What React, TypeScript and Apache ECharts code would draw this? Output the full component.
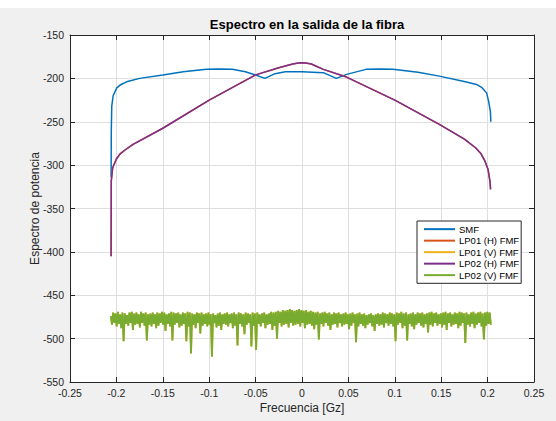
import React, { useEffect, useRef } from "react";
import * as echarts from "echarts";

const titleText = "Espectro en la salida de la fibra";
const xName = "Frecuencia [Gz]";
const yName = "Espectro de potencia";
const legendNames = ["SMF", "LP01 (H) FMF", "LP01 (V) FMF", "LP02 (H) FMF", "LP02 (V) FMF"];
const colors = ["#0072BD", "#D95319", "#EDB120", "#7E2F8E", "#77AC30"];

const smfX = [-0.2057, -0.2055, -0.205, -0.2035, -0.1996, -0.195, -0.189, -0.175, -0.15, -0.128, -0.103, -0.09, -0.075, -0.061, -0.05, -0.04, -0.029, -0.018, 0, 0.023, 0.037, 0.048, 0.069, 0.085, 0.098, 0.125, 0.148, 0.176, 0.188, 0.194, 0.199, 0.201, 0.203, 0.2035];
const smfY = [-314, -260, -232, -220, -211, -207, -204, -200, -196.2, -192.3, -189.6, -189.3, -189.6, -192.3, -196.2, -200, -194.6, -192.3, -192.3, -193.4, -200, -195.4, -189.6, -189.3, -189.6, -193, -197.4, -203.8, -207, -210.7, -217, -226, -238, -250];

const lp02hX = [-0.2057, -0.2055, -0.204, -0.2, -0.196, -0.19, -0.182, -0.15, -0.1, -0.05, -0.025, -0.01, -0.004, 0, 0.004, 0.01, 0.023, 0.048, 0.1, 0.148, 0.175, 0.187, 0.193, 0.197, 0.2005, 0.2027, 0.2032];
const lp02hY = [-405, -318, -303, -293, -287, -282, -276, -257.5, -225, -196, -187.7, -183.5, -182.3, -182, -182.3, -183.5, -189.6, -198.5, -225, -253, -270, -280, -287, -295, -305, -320, -328];

const noiseStart = -0.206;
const noiseEnd = 0.2035;
const noiseTop = [
  -474, -470, -471, -469, -472, -470, -471, -473, -470, -469, -471, -470, -472, -469, -471, -470, -472, -471, -470, -472,
  -470, -471, -469, -470, -472, -471, -469, -470, -471, -470, -472, -470, -471, -469, -470, -471, -472, -470, -471, -470,
  -472, -471, -470, -472, -471, -473, -471, -470, -472, -471, -470, -472, -471, -470, -472, -470, -471, -472, -470, -471,
  -472, -470, -471, -470, -472, -471, -470, -472, -471, -469, -470, -469, -468, -469, -467, -468, -467, -466, -467, -468,
  -467, -466, -467, -468, -467, -469, -468, -469, -470, -469, -471, -470, -469, -471, -470, -472, -470, -471, -470, -472,
  -471, -470, -472, -471, -470, -472, -471, -470, -472, -471, -473, -472, -471, -473, -472, -471, -472, -470, -471, -472,
  -470, -471, -472, -470, -471, -469, -471, -470, -472, -471, -470, -472, -470, -471, -470, -472, -471, -470, -469, -471,
  -470, -472, -471, -470, -469, -471, -470, -472, -470, -471, -469, -470, -471, -470, -472, -470, -469, -471, -470, -469,
  -471, -470, -469, -470,
];
const noiseBottom = [
  -484, -482, -486, -483, -488, -503, -483, -485, -482, -490, -484, -483, -487, -482, -485, -502, -484, -486, -483, -488,
  -485, -482, -484, -491, -483, -486, -502, -484, -482, -487, -485, -483, -503, -486, -517, -484, -488, -482, -494, -485,
  -483, -486, -484, -521, -482, -487, -485, -490, -483, -484, -486, -482, -488, -485, -508, -483, -486, -495, -484, -482,
  -509, -485, -513, -483, -486, -482, -488, -484, -483, -490, -485, -500, -482, -486, -484, -483, -487, -482, -485, -484,
  -483, -486, -482, -488, -484, -483, -485, -489, -484, -501, -483, -486, -482, -485, -490, -484, -483, -487, -482, -486,
  -484, -483, -489, -485, -482, -504, -486, -483, -485, -488, -484, -482, -486, -491, -483, -485, -484, -487, -482, -485,
  -483, -486, -503, -484, -482, -488, -485, -502, -483, -486, -489, -484, -482, -485, -487, -483, -493, -484, -486, -482,
  -485, -483, -487, -484, -490, -482, -486, -484, -483, -488, -485, -482, -505, -484, -486, -483, -488, -484, -482, -486,
  -501, -485, -483, -484,
];

const xTicks = { min: -0.25, max: 0.25, interval: 0.05 };
const yTicks = { min: -550, max: -150, interval: 50 };

const pairs = (xs: number[], ys: number[]) => xs.map((x, i) => [x, ys[i]]);
const noiseData: number[][] = [];
{
  const n = noiseTop.length * 2;
  noiseTop.forEach((t, i) => {
    noiseData.push([noiseStart + ((2 * i) * (noiseEnd - noiseStart)) / (n - 1), t]);
    noiseData.push([noiseStart + ((2 * i + 1) * (noiseEnd - noiseStart)) / (n - 1), noiseBottom[i]]);
  });
}

const FONT = "Liberation Sans, Arial, Helvetica, sans-serif";
const AX = "#262626";
const OFF = 8; // white strip above the figure

export default function App() {
  const ref = useRef<HTMLDivElement>(null);
  useEffect(() => {
    if (!ref.current) return;
    const chart = echarts.init(ref.current, undefined, { renderer: "svg" });
    const fmt = (v: number) => parseFloat(v.toFixed(2)).toString();
    const baseAxisCommon = {
      axisLine: { show: true, onZero: false, lineStyle: { color: AX, width: 1 } },
      axisTick: { show: true, inside: true, length: 5, lineStyle: { color: AX } },
    };
    const lineSeries = (name: string, data: number[][], color: string, width = 1.5) => ({
      name,
      type: "line",
      data,
      showSymbol: false,
      symbol: "none",
      lineStyle: { color, width },
      itemStyle: { color },
      emphasis: { disabled: true },
    });
    chart.setOption({
      animation: false,
      backgroundColor: "#f0f0f0",
      textStyle: { fontFamily: FONT },
      title: {
        text: titleText,
        left: 302,
        top: 13 - OFF,
        textAlign: "center",
        textStyle: { fontSize: 13, fontWeight: "bold", color: "#000", fontFamily: FONT },
      },
      grid: {
        left: 70,
        right: 22,
        top: 35 - OFF,
        bottom: 39,
        show: true,
        backgroundColor: "#ffffff",
        borderWidth: 0,
      },
      legend: {
        data: legendNames,
        orient: "vertical",
        left: 417,
        top: 221 - OFF,
        padding: [3, 2, 3, 7],
        itemGap: 1.2,
        itemWidth: 31,
        itemHeight: 2,
        icon: "rect",
        backgroundColor: "#ffffff",
        borderColor: AX,
        borderWidth: 1,
        borderRadius: 0,
        textStyle: { fontSize: 9.5, color: "#000", fontFamily: FONT, padding: [0, 0, 0, -1], lineHeight: 10.3 },
      },
      xAxis: [
        {
          type: "value",
          ...xTicks,
          position: "bottom",
          name: xName,
          nameLocation: "middle",
          nameGap: 20,
          nameMoveOverlap: false,
          nameTextStyle: { fontSize: 12, color: AX, fontFamily: FONT },
          ...baseAxisCommon,
          axisLabel: { fontSize: 10.5, color: AX, margin: 5, formatter: fmt, fontFamily: FONT, showMinLabel: true, showMaxLabel: true },
          splitLine: { show: true, lineStyle: { color: "#dfdfdf", width: 1 } },
        },
        {
          type: "value",
          ...xTicks,
          position: "top",
          ...baseAxisCommon,
          axisLabel: { show: false },
          splitLine: { show: false },
        },
      ],
      yAxis: [
        {
          type: "value",
          ...yTicks,
          position: "left",
          name: yName,
          nameLocation: "middle",
          nameGap: 29,
          nameMoveOverlap: false,
          nameTextStyle: { fontSize: 12, color: AX, fontFamily: FONT },
          ...baseAxisCommon,
          axisLabel: { fontSize: 10.5, color: AX, margin: 6, fontFamily: FONT, showMinLabel: true, showMaxLabel: true },
          splitLine: { show: true, lineStyle: { color: "#dfdfdf", width: 1 } },
        },
        {
          type: "value",
          ...yTicks,
          position: "right",
          ...baseAxisCommon,
          axisLabel: { show: false },
          splitLine: { show: false },
        },
      ],
      series: [
        lineSeries(legendNames[0], pairs(smfX, smfY), colors[0]),
        lineSeries(legendNames[1], pairs(lp02hX, lp02hY), colors[1]),
        lineSeries(legendNames[2], noiseData, colors[2], 1.8),
        lineSeries(legendNames[3], pairs(lp02hX, lp02hY), colors[3]),
        lineSeries(legendNames[4], noiseData, colors[4], 1.8),
      ],
    });
    return () => chart.dispose();
  }, []);
  return (
    <div style={{ position: "absolute", left: 0, top: 0, width: 556, height: 421, background: "#ffffff" }}>
      <div
        ref={ref}
        style={{ position: "absolute", left: 0, top: OFF, width: 556, height: 421 - OFF }}
      />
    </div>
  );
}
